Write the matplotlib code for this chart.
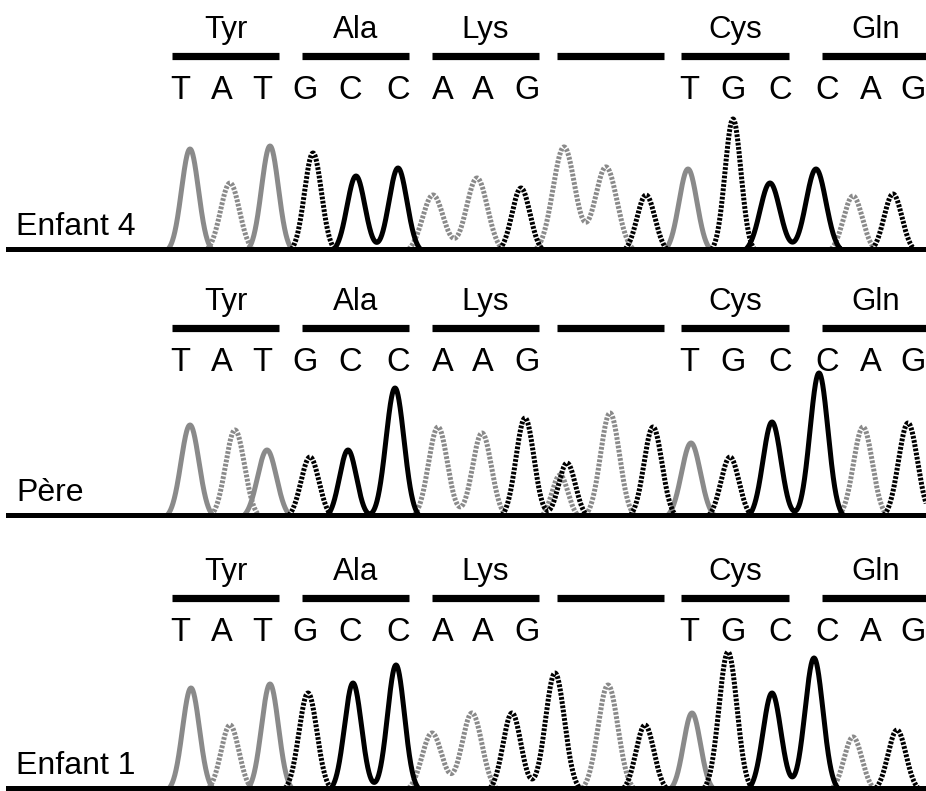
import numpy as np
import matplotlib
matplotlib.use('Agg')
import matplotlib.pyplot as plt

plt.rcParams['font.family'] = ['Liberation Sans', 'DejaVu Sans']

# codons drawn above each trace
codon_names = ['Tyr', 'Ala', 'Lys', '', 'Cys', 'Gln']
codon_start = [172, 302, 432, 557, 681, 822]
codon_end = [279, 409, 539, 664, 789, 930]

base_letters = list('TATGCCAAG') + list('TGCCAG')
base_x = [180, 222, 262, 305, 350, 398, 443, 483, 527, 689, 733, 780, 827, 871, 913]

# peaks of each trace: base call, position, height, width
e4_calls = list('TATGCCAAGAAGTGCCAG')
e4_pos = [190, 230, 270, 313, 356, 398, 433, 477, 521, 564, 606, 646, 688, 733, 770, 816, 853, 893]
e4_height = [100, 66, 103, 96, 73, 81, 54, 71, 61, 102, 82, 54, 80, 130, 66, 80, 53, 55]
e4_width = [8.5, 9.5, 8.5, 8.5, 9, 9, 10.5, 10.5, 9, 11, 11, 9, 9, 8, 10, 10, 9.5, 9]

pere_calls = list('TATGCCAAGAGAGTGCCAG')
pere_pos = [190, 235, 267, 310, 348, 395, 438, 482, 525, 560, 567, 610, 653, 691, 730, 772, 819, 863, 908]
pere_height = [90, 85, 65, 58, 65, 127, 88, 82, 97, 40, 52, 102, 88, 72, 58, 93, 142, 88, 92]
pere_width = [9, 9.5, 9.5, 9, 8.5, 9, 9.5, 9.5, 9, 8, 8.5, 9.5, 9, 9.5, 9, 9, 9, 9.5, 9.5]

e1_calls = list('TATGCCAAGGAGTGCCAG')
e1_pos = [191, 230, 270, 308, 353, 396, 432, 472, 512, 555, 608, 645, 692, 728, 772, 814, 853, 897]
e1_height = [100, 63, 104, 95, 105, 123, 55, 75, 75, 115, 103, 63, 75, 136, 95, 130, 51, 58]
e1_width = [8.5, 9, 8.5, 9, 8.5, 8.5, 10, 10, 9, 9.5, 10, 9, 8.5, 9, 9, 9, 9, 9]

panel_names = ['Enfant 4', 'Père', 'Enfant 1']
panel_calls = [e4_calls, pere_calls, e1_calls]
panel_pos = [e4_pos, pere_pos, e1_pos]
panel_height = [e4_height, pere_height, e1_height]
panel_width = [e4_width, pere_width, e1_width]

# layout: baseline of each panel in pixels from top, small text shift
W, H = 926, 791
baseline_px = [249, 515, 788]
text_shift = [3, -3, 0]

gray = '#8a8a8a'
dots = (0, (0.55, 0.3))
styles = {
    'T': dict(color=gray, linestyle='-'),
    'A': dict(color=gray, linestyle=dots),
    'G': dict(color='black', linestyle=dots),
    'C': dict(color='black', linestyle='-'),
}
floor = 4.0

fig = plt.figure(figsize=(W / 100, H / 100), dpi=100)
xs = np.linspace(150, 930, 6000)

for p in range(3):
    top = baseline_px[p] - 252
    bottom = baseline_px[p] + 4
    ax = fig.add_axes([0, 1 - bottom / H, 1, (bottom - top) / H])
    ax.set_xlim(0, W)
    ax.set_ylim(-4, 252)
    ax.axis('off')

    for base in ['A', 'T', 'G', 'C']:
        y = np.zeros_like(xs)
        for c, x0, h, s in zip(panel_calls[p], panel_pos[p], panel_height[p], panel_width[p]):
            if c == base:
                y += (h + floor) * np.exp(-(xs - x0) ** 2 / (2 * s ** 2))
        y = np.clip(y - floor, 0, None)
        pos = y > 0
        keep = pos | np.roll(pos, 1) | np.roll(pos, -1)
        y = np.where(keep, y, np.nan)
        ax.plot(xs, y, lw=3.6, dash_capstyle='butt', solid_capstyle='round',
                solid_joinstyle='round', **styles[base])

    ax.axhline(0, xmin=8 / W, xmax=1, color='black', lw=3.6, zorder=5)

    dy = text_shift[p]
    ax.hlines([190 + dy] * len(codon_start), codon_start, codon_end,
              color='black', lw=5.2, clip_on=False)
    for name, a, b in zip(codon_names, codon_start, codon_end):
        ax.text((a + b) / 2, 208 + dy, name, ha='center', va='baseline', fontsize=22.5)
    for letter, x in zip(base_letters, base_x):
        ax.text(x, 147 + dy, letter, ha='center', va='baseline', fontsize=23.5)
    ax.text(16, 14, panel_names[p], ha='left', va='baseline', fontsize=23)

fig.savefig('out.png', dpi=100)
